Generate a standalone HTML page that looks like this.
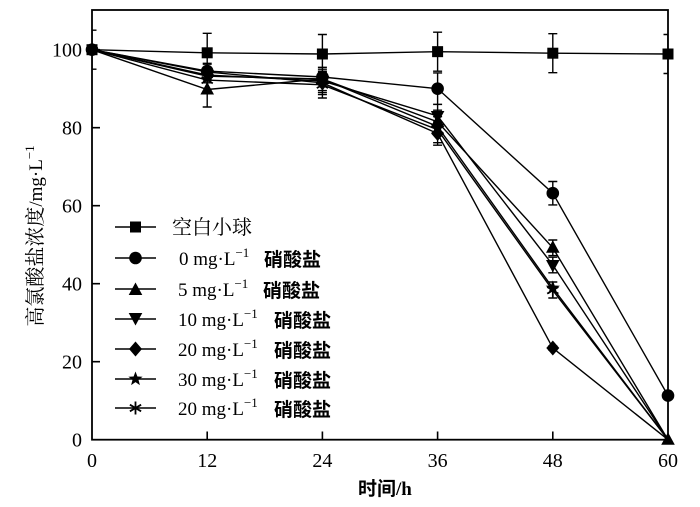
<!DOCTYPE html>
<html><head><meta charset="utf-8"><style>
html,body{margin:0;padding:0;background:#fff;}
svg{display:block;}
.t{font-family:"Liberation Serif","Noto Serif CJK SC",serif;font-size:20px;fill:#000;}
.lg{font-family:"Liberation Serif","Noto Serif CJK SC",serif;font-size:19px;fill:#000;}
.cn{font-family:"Liberation Sans","Noto Sans CJK SC",sans-serif;font-size:19px;font-weight:bold;fill:#000;}
</style></head><body>
<svg width="700" height="507" viewBox="0 0 700 507" xmlns="http://www.w3.org/2000/svg">
<defs>
<clipPath id="c"><rect x="92" y="10" width="576" height="430"/></clipPath>
<g id="sq"><rect x="-5.5" y="-5.5" width="11" height="11" fill="#000"/></g>
<g id="ci"><circle r="6.3" fill="#000"/></g>
<g id="tu"><polygon points="0,-7.5 6.8,5 -6.8,5" fill="#000"/></g>
<g id="td"><polygon points="0,7.5 6.8,-5 -6.8,-5" fill="#000"/></g>
<g id="di"><polygon points="0,-7.5 6.5,0 0,7.5 -6.5,0" fill="#000"/></g>
<g id="st"><polygon points="0,-7.5 1.9,-2.5 7.1,-2.3 3,0.9 4.4,6.1 0,3.1 -4.4,6.1 -3,0.9 -7.1,-2.3 -1.9,-2.5" fill="#000"/></g>
<g id="as" stroke="#000" stroke-width="1.8"><line x1="0" y1="-6.5" x2="0" y2="6.5"/><line x1="-5.6" y1="-3.3" x2="5.6" y2="3.3"/><line x1="-5.6" y1="3.3" x2="5.6" y2="-3.3"/></g>
</defs>

<g clip-path="url(#c)" stroke="#000" stroke-width="1.4" fill="none">
<!-- error bars -->
<path d="
M92,30.2V69.2M87.5,30.2H96.5M87.5,69.2H96.5
M207.2,33.3V72.3M202.7,33.3H211.7M202.7,72.3H211.7
M322.4,34.5V73.5M317.9,34.5H326.9M317.9,73.5H326.9
M437.6,32.2V71.2M433.1,32.2H442.1M433.1,71.2H442.1
M552.8,33.7V72.7M548.3,33.7H557.3M548.3,72.7H557.3
M668,34.5V73.5M663.5,34.5H672.5M663.5,73.5H672.5
M207.2,63.3V78.9M202.7,63.3H211.7M202.7,78.9H211.7
M322.4,71.2V82.8M317.9,71.2H326.9M317.9,82.8H326.9
M437.6,72.9V104.4M433.1,72.9H442.1M433.1,104.4H442.1
M552.8,181.5V204.9M548.3,181.5H557.3M548.3,204.9H557.3
M207.2,72V107M202.7,72H211.7M202.7,107H211.7
M322.4,67.3V90.6M317.9,67.3H326.9M317.9,90.6H326.9
M437.6,110.2V133.6M433.1,110.2H442.1M433.1,133.6H442.1
M552.8,240V255.6M548.3,240H557.3M548.3,255.6H557.3
M207.2,67.3V82.8M202.7,67.3H211.7M202.7,82.8H211.7
M322.4,69.2V92.6M317.9,69.2H326.9M317.9,92.6H326.9
M437.6,104.3V127.7M433.1,104.3H442.1M433.1,127.7H442.1
M552.8,257.2V272.8M548.3,257.2H557.3M548.3,272.8H557.3
M207.2,64.2V79.6M202.7,64.2H211.7M202.7,79.6H211.7
M322.4,75V94.6M317.9,75H326.9M317.9,94.6H326.9
M437.6,121.8V145.2M433.1,121.8H442.1M433.1,145.2H442.1
M552.8,346H557.3M548.3,346H557.3M548.3,350H557.3
M322.4,72V98M317.9,72H326.9M317.9,98H326.9
M437.6,116.7V142.7M433.1,116.7H442.1M433.1,142.7H442.1
M552.8,282V298M548.3,282H557.3M548.3,298H557.3
"/>
<!-- series lines -->
<polyline points="92,49.7 207.2,52.8 322.4,54 437.6,51.65 552.8,53.2 668,54"/>
<polyline points="92,49.7 207.2,71.1 322.4,77 437.6,88.65 552.8,193.2 668,395.6"/>
<polyline points="92,49.7 207.2,89.5 322.4,78.95 437.6,121.9 552.8,247.8 668,439.7"/>
<polyline points="92,49.7 207.2,75.05 322.4,80.9 437.6,116 552.8,265 668,439.7"/>
<polyline points="92,49.7 207.2,71.9 322.4,82.85 437.6,133.5 552.8,348.05 668,439.7"/>
<polyline points="92,49.7 207.2,76.2 322.4,78.95 437.6,126.5 552.8,288 668,439.7"/>
<polyline points="92,49.7 207.2,80.1 322.4,84.8 437.6,129.7 552.8,290.3 668,439.7"/>
</g>

<!-- markers -->
<g>
<use href="#sq" x="92" y="49.7"/><use href="#sq" x="207.2" y="52.8"/><use href="#sq" x="322.4" y="54"/><use href="#sq" x="437.6" y="51.65"/><use href="#sq" x="552.8" y="53.2"/><use href="#sq" x="668" y="54"/>
<use href="#ci" x="92" y="49.7"/><use href="#ci" x="207.2" y="71.1"/><use href="#ci" x="322.4" y="77"/><use href="#ci" x="437.6" y="88.65"/><use href="#ci" x="552.8" y="193.2"/><use href="#ci" x="668" y="395.6"/>
<use href="#tu" x="207.2" y="89.5"/><use href="#tu" x="322.4" y="78.95"/><use href="#tu" x="437.6" y="121.9"/><use href="#tu" x="552.8" y="247.8"/><use href="#tu" x="668" y="439.7"/>
<use href="#td" x="207.2" y="75.05"/><use href="#td" x="322.4" y="80.9"/><use href="#td" x="437.6" y="116"/><use href="#td" x="552.8" y="265"/>
<use href="#di" x="207.2" y="71.9"/><use href="#di" x="322.4" y="82.85"/><use href="#di" x="437.6" y="133.5"/><use href="#di" x="552.8" y="348.05"/>
<use href="#st" x="207.2" y="76.2"/><use href="#st" x="322.4" y="78.95"/><use href="#st" x="437.6" y="126.5"/><use href="#st" x="552.8" y="288"/>
<use href="#as" x="207.2" y="80.1"/><use href="#as" x="322.4" y="84.8"/><use href="#as" x="437.6" y="129.7"/><use href="#as" x="552.8" y="290.3"/>
</g>

<!-- frame & ticks -->
<rect x="92" y="10" width="576" height="429.7" fill="none" stroke="#000" stroke-width="1.8"/>
<path stroke="#000" stroke-width="1.6" d="M92,361.7H100M92,283.7H100M92,205.7H100M92,127.7H100M92,49.7H100
M207.2,439.7V431.5M322.4,439.7V431.5M437.6,439.7V431.5M552.8,439.7V431.5"/>

<!-- tick labels -->
<g class="t" text-anchor="end">
<text x="82" y="446.5">0</text>
<text x="82" y="368.5">20</text>
<text x="82" y="290.5">40</text>
<text x="82" y="212.5">60</text>
<text x="82" y="134.5">80</text>
<text x="82" y="56.5">100</text>
</g>
<g class="t" text-anchor="middle">
<text x="92" y="467">0</text>
<text x="207.2" y="467">12</text>
<text x="322.4" y="467">24</text>
<text x="437.6" y="467">36</text>
<text x="552.8" y="467">48</text>
<text x="668" y="467">60</text>
</g>

<!-- axis titles -->
<text x="358" y="495" style="font-family:'Liberation Serif','Noto Sans CJK SC',sans-serif;font-size:19px;font-weight:bold;fill:#000"><tspan style="font-family:'Noto Sans CJK SC',sans-serif">时间</tspan>/h</text>
<g transform="translate(42,236) rotate(-90)">
<text x="0" y="0" text-anchor="middle" style="font-family:'Liberation Serif','Noto Serif CJK SC',serif;font-size:19px;fill:#000"><tspan style="font-family:'Noto Serif CJK SC',serif;font-size:20px">高氯酸盐浓度</tspan>/mg·L<tspan font-size="13" dy="-8">−1</tspan></text>
</g>

<!-- legend -->
<g stroke="#000" stroke-width="1.4">
<line x1="115" y1="227" x2="156" y2="227"/>
<line x1="115" y1="258" x2="156" y2="258"/>
<line x1="115" y1="289" x2="156" y2="289"/>
<line x1="115" y1="319" x2="156" y2="319"/>
<line x1="115" y1="349" x2="156" y2="349"/>
<line x1="115" y1="379" x2="156" y2="379"/>
<line x1="115" y1="408" x2="156" y2="408"/>
</g>
<use href="#sq" x="135.5" y="227"/>
<use href="#ci" x="135.5" y="258"/>
<use href="#tu" x="135.5" y="290"/>
<use href="#td" x="135.5" y="318"/>
<use href="#di" x="135.5" y="349"/>
<use href="#st" x="135.5" y="379"/>
<use href="#as" x="135.5" y="408"/>

<text x="172" y="234" style="font-family:'Noto Serif CJK SC',serif;font-size:20px;fill:#000">空白小球</text>
<text class="lg" x="179" y="265">0 mg·L<tspan font-size="13" dy="-8">−1</tspan></text>
<text class="cn" x="264" y="266">硝酸盐</text>
<text class="lg" x="178" y="296">5 mg·L<tspan font-size="13" dy="-8">−1</tspan></text>
<text class="cn" x="263" y="297">硝酸盐</text>
<text class="lg" x="178" y="326">10 mg·L<tspan font-size="13" dy="-8">−1</tspan></text>
<text class="cn" x="274" y="327">硝酸盐</text>
<text class="lg" x="178" y="356">20 mg·L<tspan font-size="13" dy="-8">−1</tspan></text>
<text class="cn" x="274" y="357">硝酸盐</text>
<text class="lg" x="178" y="386">30 mg·L<tspan font-size="13" dy="-8">−1</tspan></text>
<text class="cn" x="274" y="387">硝酸盐</text>
<text class="lg" x="178" y="415">20 mg·L<tspan font-size="13" dy="-8">−1</tspan></text>
<text class="cn" x="274" y="416">硝酸盐</text>
</svg>
</body></html>
